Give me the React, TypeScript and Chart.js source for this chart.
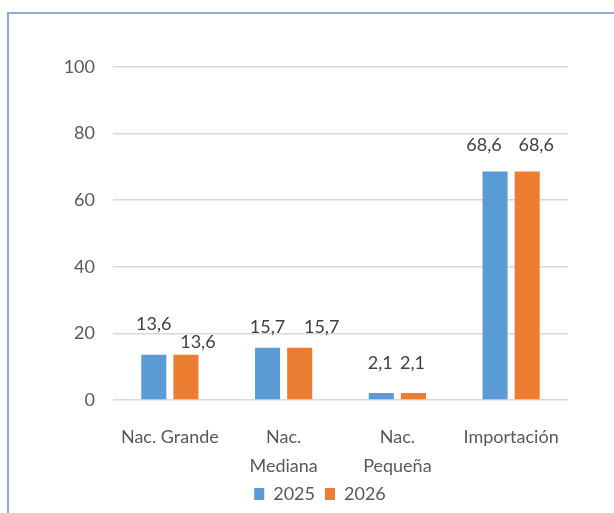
import React, { useEffect, useRef } from "react";
import { Chart, registerables } from "chart.js";

Chart.register(...registerables);

const categories: (string | string[])[] = ["Nac. Grande", ["Nac.", "Mediana"], ["Nac.", "Pequeña"], "Importación"];
const seriesNames = ["2025", "2026"];
const values2025 = [13.6, 15.7, 2.1, 68.6];
const values2026 = [13.6, 15.7, 2.1, 68.6];
const yTicks = [0, 20, 40, 60, 80, 100];

// label nudges (px) relative to top-centre of each bar, per dataset
const labelDx = [[0, 0, -1, -11], [12, 22, -1, 9]];
const labelDy = [[-31, -21, -30, -26], [-13, -21, -30, -26]];

const FONT = "Lato, 'Liberation Sans', sans-serif";
const FS = 18;
const TEXT = "#595959";

const dataLabels = {
  id: "dataLabels",
  afterDatasetsDraw(chart: any) {
    const ctx = chart.ctx;
    ctx.save();
    ctx.font = `${FS}px ${FONT}`;
    ctx.fillStyle = "#404040";
    ctx.textAlign = "center";
    ctx.textBaseline = "middle";
    chart.data.datasets.forEach((ds: any, di: number) => {
      const meta = chart.getDatasetMeta(di);
      meta.data.forEach((el: any, i: number) => {
        const v = ds.data[i] as number;
        const txt = v.toFixed(1).replace(".", ",");
        ctx.fillText(txt, el.x + labelDx[di][i], el.y + labelDy[di][i]);
      });
    });
    ctx.restore();
  },
};

export default function App() {
  const ref = useRef<HTMLCanvasElement>(null);
  useEffect(() => {
    document.body.style.overflow = "hidden";
    const chart = new Chart(ref.current!, {
      type: "bar",
      data: {
        labels: categories,
        datasets: [
          { label: seriesNames[0], data: values2025, backgroundColor: "#5b9bd5", categoryPercentage: 0.565, barPercentage: 0.78 },
          { label: seriesNames[1], data: values2026, backgroundColor: "#ed7d31", categoryPercentage: 0.565, barPercentage: 0.78 },
        ],
      },
      options: {
        responsive: false,
        animation: false,
        layout: { padding: { left: 26, right: 0, top: 67, bottom: 0 } },
        plugins: {
          tooltip: { enabled: false },
          legend: {
            position: "bottom",
            labels: {
              boxWidth: 10,
              boxHeight: 12,
              padding: 10,
              color: TEXT,
              font: { family: FONT, size: FS },
            },
          },
        },
        scales: {
          x: {
            grid: { display: false, drawTicks: false },
            border: { display: false },
            ticks: {
              color: TEXT,
              font: { family: FONT, size: FS, lineHeight: 1.65 },
              padding: 22,
              maxRotation: 0,
              autoSkip: false,
            },
            afterFit: (s: any) => {
              s.height = 75;
            },
          },
          y: {
            min: 0,
            max: 100,
            afterBuildTicks: (s: any) => {
              s.ticks = yTicks.map((v) => ({ value: v }));
            },
            grid: { color: "#d9d9d9", lineWidth: 1.5, drawTicks: false },
            border: { display: false },
            ticks: {
              color: TEXT,
              font: { family: FONT, size: FS },
              padding: 18,
            },
            afterFit: (s: any) => {
              s.width = 87;
            },
          },
          yRight: {
            position: "right",
            grid: { display: false, drawTicks: false },
            border: { display: false },
            ticks: { display: false },
            afterFit: (s: any) => {
              s.width = 46;
            },
          },
        },
      },
      plugins: [dataLabels],
    });
    return () => chart.destroy();
  }, []);
  return (
    <div>
      <canvas ref={ref} width={614} height={513} style={{ position: "fixed", left: 0, top: 0 }} />
      <div
        style={{
          position: "fixed",
          left: 7,
          top: 12,
          width: 607,
          height: 501,
          borderLeft: "2px solid #8faadc",
          borderTop: "2px solid #8faadc",
          pointerEvents: "none",
        }}
      />
    </div>
  );
}
